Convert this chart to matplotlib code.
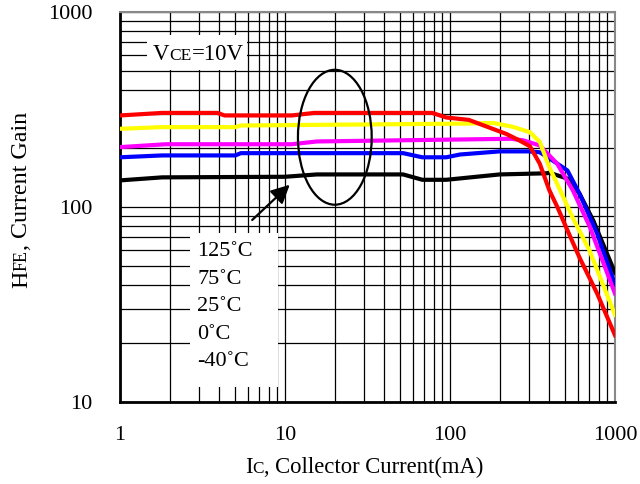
import numpy as np
import matplotlib
matplotlib.use("Agg")
from matplotlib import pyplot as plt
from matplotlib.patches import Ellipse, Rectangle

plt.rcParams['font.family'] = ['Liberation Serif', 'DejaVu Serif']

# HFE vs IC
ic_125 = [1, 1.8, 3.9, 4.3, 11, 15, 78, 95, 130, 220, 265, 305, 350, 400, 450, 515, 610, 780, 1000]
hfe_125 = [295, 304, 304, 295, 295, 304, 304, 288, 280, 237, 219, 205, 167, 122, 99, 76, 55, 36, 22]

ic_75 = [1, 1.8, 5, 5.4, 127, 183, 240, 305, 350, 400, 465, 555, 700, 1000]
hfe_75 = [252, 257, 257, 262, 268, 270, 258, 242, 216, 160, 122, 88, 60, 28]

ic_25 = [1, 1.9, 11, 15.6, 234, 277, 350, 446, 555, 700, 1000]
hfe_25 = [203, 210, 210, 217, 224, 220, 207, 167, 122, 80, 36]

ic_0 = [1, 1.8, 5, 5.4, 52, 68, 95, 115, 200, 300, 350, 400, 515, 610, 780, 1000]
hfe_0 = [180, 184, 184, 189, 189, 180, 180, 186, 193, 193, 191, 178, 154, 117, 73, 40]

ic_m40 = [1, 1.8, 10, 15.6, 52, 68, 95, 200, 386, 400, 515, 610, 740, 1000]
hfe_m40 = [137, 142, 143, 147, 147, 138, 138, 147, 149, 150, 140, 117, 85, 46]

temps = ["125˚C", "75˚C", "25˚C", "0˚C", "-40˚C"]

fig = plt.figure(figsize=(6.4, 4.84), dpi=100)
ax = fig.add_axes([0.1875, 0.1694, 0.7734, 0.8056])

ax.set_xscale('log')
ax.set_yscale('log')
ax.set_xlim(1, 1000)
ax.set_ylim(10, 1000)

ax.grid(True, which='both', color='black', lw=0.9)
ax.set_axisbelow(True)

ax.plot(ic_m40, hfe_m40, color='black', lw=3, zorder=3)
ax.plot(ic_0, hfe_0, color='#0000ff', lw=3, zorder=3)
ax.plot(ic_25, hfe_25, color='#ff00ff', lw=3, zorder=3)
ax.plot(ic_75, hfe_75, color='#ffff00', lw=3, zorder=3)
ax.plot(ic_125, hfe_125, color='#ff0000', lw=3, zorder=3)

ax.set_xticks([1, 10, 100, 1000])
ax.set_xticklabels(['1', '10', '100', '1000'])
ax.set_yticks([10, 100, 1000])
ax.set_yticklabels(['10', '100', '1000'])
ax.tick_params(which='both', length=0, labelsize=16)
ax.tick_params(axis='x', pad=17)
ax.tick_params(axis='y', pad=20)
ax.minorticks_on()
ax.tick_params(which='minor', length=0, labelbottom=False, labelleft=False)

for side in ['left', 'bottom']:
    ax.spines[side].set_linewidth(2)
    ax.spines[side].set_color('black')
for side in ['top', 'right']:
    ax.spines[side].set_linewidth(1.5)
    ax.spines[side].set_color('#888888')

# white boxes behind the notes
ax.add_patch(Rectangle((0.141, 0.038), 0.178, 0.395, transform=ax.transAxes,
                       facecolor='white', edgecolor='none', zorder=2))
ax.add_patch(Rectangle((0.0545, 0.851), 0.202, 0.09, transform=ax.transAxes,
                       facecolor='white', edgecolor='none', zorder=2))

for t, yy in zip(temps, [0.385, 0.313, 0.244, 0.172, 0.103]):
    ax.text(0.156, yy, t, transform=ax.transAxes, fontsize=16, va='center', zorder=4)

ax.add_patch(Ellipse((0.434, 0.679), 0.149, 0.346, transform=ax.transAxes,
                     fill=False, lw=1.6, color='black', zorder=4))
ax.annotate('', xy=(0.347, 0.562), xytext=(0.263, 0.462), xycoords='axes fraction',
            arrowprops=dict(arrowstyle='-|>', lw=1.6, color='black', mutation_scale=28),
            zorder=4)

r = fig.canvas.get_renderer()
W, H = fig.get_size_inches() * fig.dpi


def rich(x, y, parts, rotation=0):
    for s, size in parts:
        t = fig.text(x, y, s, fontsize=size, rotation=rotation, rotation_mode='anchor',
                     ha='left', va='baseline', zorder=5)
        bb = t.get_window_extent(r)
        if rotation == 0:
            x += bb.width / W
        else:
            y += bb.height / H


rich(153 / W, 1 - 60 / H, [("V", 16.5), ("CE", 12.5), ("=10V", 16.5)])
rich(245 / W, 1 - 473 / H, [("I", 16.3), ("C", 12.3), (", Collector Current(mA)", 16.3)])
rich(27 / W, 1 - 288 / H, [("H", 17.3), ("FE", 13), (", Current Gain", 17.3)], rotation=90)

fig.savefig('out.png', dpi=100)
